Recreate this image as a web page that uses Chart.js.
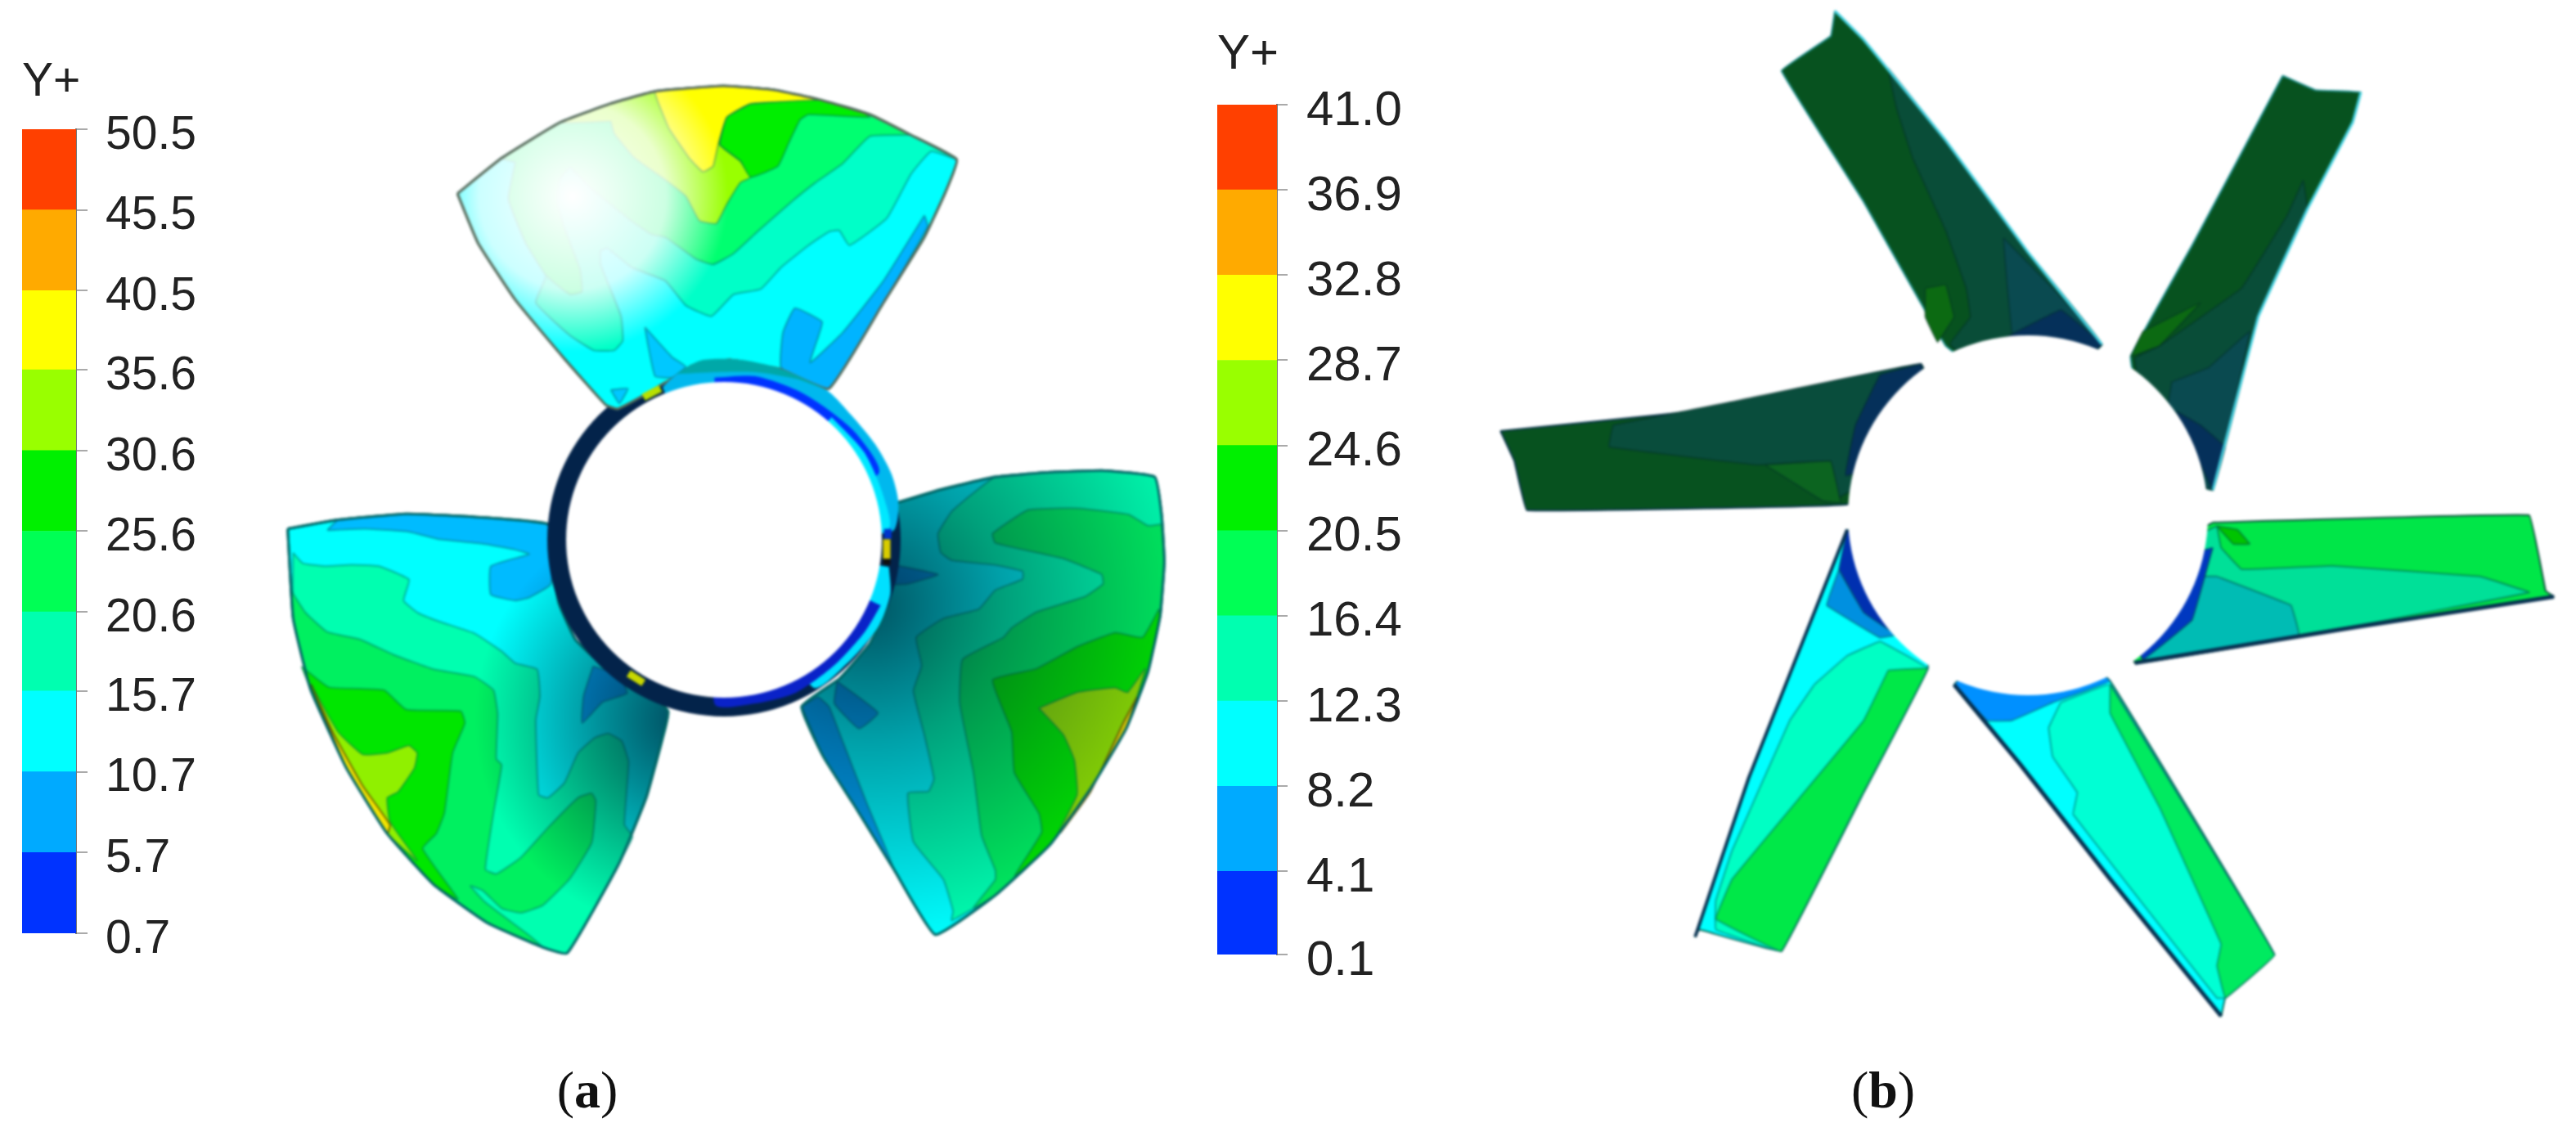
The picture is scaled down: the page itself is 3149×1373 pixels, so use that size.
<!DOCTYPE html>
<html>
<head>
<meta charset="utf-8">
<title>Y+ contours</title>
<script src="https://cdn.jsdelivr.net/npm/chart.js@4"></script>
<style>
  html, body { margin: 0; padding: 0; background: #fff; }
  body { width: 3149px; height: 1373px; position: relative; overflow: hidden; }
  .box { position: absolute; }
  #bladesBox canvas { filter: blur(1.5px); }
  #barA canvas, #barB canvas { filter: blur(0.7px); }
  .cap { position: absolute; font-family: "Liberation Serif", serif; font-size: 64px; color: #111; transform: translateX(-50%); }
</style>
</head>
<body>
<div class="box" id="bladesBox" style="left:0;top:0;width:3149px;height:1373px"><canvas id="blades" width="3149" height="1373"></canvas></div>
<div class="box" id="barA"><canvas id="barACanvas"></canvas></div>
<div class="box" id="barB"><canvas id="barBCanvas"></canvas></div>
<div class="cap" style="left:718px;top:1296px">(<b>a</b>)</div>
<div class="cap" style="left:2302px;top:1296px">(<b>b</b>)</div>

<script>
// colour bar levels
const ticksA = [0.7, 5.7, 10.7, 15.7, 20.6, 25.6, 30.6, 35.6, 40.5, 45.5, 50.5];
const ticksB = [0.1, 4.1, 8.2, 12.3, 16.4, 20.5, 24.6, 28.7, 32.8, 36.9, 41.0];
const bandColors = ['#0033ff', '#00aaff', '#00ffff', '#00ffb0', '#00ff55', '#00f000', '#99ff00', '#ffff00', '#ffaa00', '#ff4000'];

// contours, each blade in its own crop units (see frames below)
const topOutline = [[70,440],[200,310],[370,180],[520,110],[650,65],[850,45],[1000,60],[1130,95],[1280,150],[1400,225],[1535,315],[1500,440],[1440,600],[1320,840],[1160,1155],[1020,1085],[870,1050],[760,1070],[700,1120],[670,1140],[610,1185],[540,1230],[505,1215],[380,1040],[240,830],[130,620]];
const topBlue1 = [[1440,520],[1450,560],[1320,840],[1160,1155],[1020,1080],[1025,950],[1060,860],[1140,910],[1130,960],[1105,1060],[1200,950],[1320,760]];
const topBlue2 = [[620,930],[700,1040],[740,1075],[700,1115],[650,1110],[630,1000]];
const topBlue3 = [[520,1160],[570,1155],[545,1210]];
const topBand1 = [[1535,315],[1460,285],[1400,370],[1330,530],[1220,630],[1190,575],[1160,580],[1100,630],[1020,710],[960,790],[880,810],[815,890],[740,850],[680,760],[580,710],[510,640],[490,650],[490,700],[550,890],[555,980],[530,1015],[470,1015],[400,960],[300,840],[330,740],[270,620],[220,460],[240,325],[200,310],[370,180],[520,110],[650,65],[850,45],[1000,60],[1130,95],[1280,150],[1400,225]];
const topBand2 = [[240,325],[220,460],[270,620],[330,740],[400,810],[435,800],[430,720],[385,570],[365,480],[370,390],[400,345],[460,420],[520,480],[580,540],[640,590],[680,600],[770,680],[820,700],[880,660],[950,580],[1050,470],[1120,400],[1200,330],[1280,230],[1390,225],[1400,225],[1280,150],[1130,95],[1000,60],[850,45],[650,65],[520,110],[370,180],[200,310]];
const topLime = [[520,175],[530,220],[590,310],[680,390],[740,450],[780,540],[830,550],[860,480],[900,400],[930,380],[900,320],[840,260],[860,160],[930,110],[1000,60],[850,45],[650,65],[520,110],[370,180]];
const topGreen = [[930,110],[860,160],[840,260],[900,320],[930,380],[1010,340],[1040,260],[1075,170],[1100,150],[1280,160],[1250,135],[1130,95]];
const topYellow = [[660,110],[690,200],[750,310],[790,360],[820,340],[835,260],[860,160],[930,110],[1130,95],[1000,60],[850,45],[650,65]];

const leftOutline = [[65,100],[250,70],[500,50],[750,60],[1020,85],[1030,200],[1060,350],[1120,470],[1200,540],[1320,590],[1460,710],[1440,800],[1380,1000],[1280,1220],[1090,1520],[1000,1500],[800,1420],[600,1290],[430,1120],[280,900],[150,640],[85,400]];
const leftBlue = [[210,105],[350,100],[510,110],[620,135],[780,150],[900,170],[950,185],[810,225],[810,320],[900,340],[950,330],[1030,285],[1030,85],[750,60],[500,50],[250,70]];
const leftBluePatch = [[1185,560],[1150,660],[1145,750],[1220,680],[1310,650],[1280,590]];
const leftBand1 = [[85,180],[120,215],[200,225],[300,220],[400,225],[510,270],[490,340],[540,380],[620,410],[750,450],[850,510],[900,550],[980,570],[990,660],[975,740],[985,990],[1020,1000],[1080,950],[1130,850],[1190,800],[1240,785],[1290,810],[1315,880],[1300,1090],[1330,1130],[1280,1220],[1090,1520],[1000,1500],[800,1420],[600,1290],[430,1120],[280,900],[150,640],[85,400]];
const leftBand2 = [[80,310],[130,380],[210,445],[330,470],[450,520],[600,570],[750,595],[820,640],[835,720],[830,870],[850,890],[820,1050],[790,1240],[830,1255],[920,1200],[1020,1100],[1130,1000],[1180,985],[1195,1010],[1180,1150],[1100,1270],[1000,1360],[920,1385],[850,1370],[780,1310],[735,1295],[790,1350],[950,1460],[1000,1500],[800,1420],[600,1290],[430,1120],[280,900],[150,640],[85,400]];
const leftGreen = [[115,560],[215,630],[330,635],[420,640],[500,705],[700,710],[715,750],[670,850],[640,1050],[610,1120],[560,1170],[690,1340],[600,1290],[430,1120],[280,900],[150,640]];
const leftLime = [[150,620],[250,780],[340,855],[430,850],[510,825],[540,850],[530,900],[470,980],[430,1000],[440,1080],[540,1210],[430,1120],[280,900]];
const leftYellow = [[150,620],[230,780],[340,960],[440,1090],[430,1120],[280,900]];

const rightOutline = [[410,150],[600,100],[800,60],[1000,45],[1200,40],[1385,60],[1410,180],[1420,330],[1405,500],[1360,680],[1280,860],[1150,1050],[1000,1230],[800,1390],[580,1515],[430,1310],[280,1100],[170,950],[90,790],[230,700],[340,590],[405,470],[400,330]];
const rightBlue1 = [[90,790],[170,950],[280,1100],[425,1300],[330,1100],[240,900],[190,790],[150,760]];
const rightBlue2 = [[220,710],[370,810],[300,860],[210,780]];
const rightBlue3 = [[430,340],[590,370],[480,400],[420,400]];
const rightBand1 = [[700,125],[640,170],[590,240],[600,300],[640,325],[800,340],[900,360],[900,385],[800,420],[740,480],[610,510],[510,570],[530,660],[500,740],[540,880],[575,1020],[555,1060],[480,1065],[500,1220],[610,1340],[645,1440],[640,1470],[800,1390],[1000,1230],[1150,1050],[1280,860],[1360,680],[1405,500],[1420,330],[1410,180],[1385,60],[1200,40],[1000,45],[800,60]];
const rightBand2 = [[1410,210],[1360,215],[1290,180],[1100,160],[920,165],[790,240],[800,270],[1050,320],[1190,370],[1195,400],[1130,440],[950,490],[860,540],[830,570],[680,640],[670,780],[720,1000],[750,1200],[800,1310],[800,1340],[720,1430],[800,1390],[1000,1230],[1150,1050],[1280,860],[1360,680],[1405,500],[1420,330]];
const rightGreen = [[1400,480],[1340,570],[1240,555],[1100,600],[950,670],[790,705],[860,870],[870,1000],[960,1130],[970,1190],[870,1330],[1000,1230],[1150,1050],[1280,860],[1360,680],[1405,500]];
const rightLime = [[960,795],[1100,745],[1240,730],[1285,745],[1350,670],[1280,860],[1150,1050],[1020,1210],[1100,1070],[1090,960],[1050,880]];
const rightYellow = [[1320,760],[1280,860],[1150,1050],[1040,1190],[1150,1060],[1270,840]];

const ringSky = [[510,160],[560,115],[650,65],[780,60],[900,85],[1110,170],[1200,260],[1290,370],[1350,480],[1375,590],[1350,690],[735,720]];
const ringTeal = [[560,112],[650,62],[800,60],[950,95],[1110,170],[1000,130],[850,105],[700,105]];
const ringBlue = [[700,125],[850,120],[1000,170],[1100,230],[1220,330],[1300,480],[735,720]];
const ringCyan = [[1130,270],[1250,400],[1320,560],[1335,680],[735,720]];
const ringAqua = [[1340,820],[1345,920],[1300,1040],[1190,1170],[1060,1260],[735,720]];
const ringDeep = [[1310,960],[1250,1060],[1140,1180],[1000,1280],[850,1320],[700,1320],[735,720]];
const patchA = [[440,197],[502,165]];
const patchB = [[385,1210],[440,1245]];
const patchC = [[1332,718],[1332,790]];
const patchCDark = [[1332,790],[1332,812]];
const patchCBlue = [[1336,680],[1336,716]];
const hubA = [[735,720]];

// panel (b) blades
const b1Outline = [[665,15],[660,50],[600,98],[700,280],[800,480],[900,560],[990,478],[900,350],[800,195],[700,55]];
const b1Teal = [[740,150],[760,220],[800,320],[825,400],[830,440],[805,478],[900,560],[990,478],[900,350],[800,195],[730,95]];
const b1Deep = [[870,330],[875,400],[880,458],[900,560],[990,478],[930,400]];
const b1Navy = [[870,470],[940,430],[990,478],[900,560]];
const b1Spot = [[775,400],[800,395],[810,440],[790,475],[775,440]];
const b1Edge = [[665,15],[700,55],[800,195],[900,350],[990,478]];
const b2Outline = [[1210,105],[1250,125],[1305,128],[1295,170],[1240,290],[1180,440],[1125,680],[1050,650],[1025,495],[1100,340]];
const b2Teal = [[1235,250],[1215,300],[1160,400],[1060,480],[1030,497],[1050,650],[1125,680],[1180,440],[1240,290]];
const b2Deep = [[1075,530],[1120,510],[1170,460],[1125,680],[1060,640]];
const b2Navy = [[1080,570],[1125,680],[1140,620],[1110,590]];
const b2Spot = [[1025,495],[1040,460],[1110,420],[1060,480]];
const b2Edge = [[1305,128],[1295,170],[1240,290],[1180,440],[1125,680]];
const b3Outline = [[258,598],[500,570],[770,505],[800,600],[680,700],[290,708],[275,640]];
const b3Teal = [[395,590],[390,620],[570,645],[660,640],[670,690],[800,600],[770,505],[550,555]];
const b3Navy = [[770,505],[720,520],[690,590],[678,660],[800,620]];
const b3Spot = [[580,645],[660,640],[672,698],[650,695]];
const b4Outline = [[1125,725],[1510,715],[1530,820],[1540,828],[1300,870],[1030,920],[1000,800]];
const b4Band = [[1130,730],[1135,760],[1160,790],[1270,785],[1450,800],[1510,822],[1300,868],[1040,915],[1000,800]];
const b4Teal = [[1130,800],[1220,840],[1230,882],[1040,915],[1000,800]];
const b4Navy = [[1125,760],[1100,860],[1040,915],[1000,800]];
const b4Spot = [[1130,730],[1155,735],[1170,755],[1150,755]];
const b4Edge = [[1030,920],[1300,870],[1540,828]];
const b5Outline = [[810,950],[900,850],[1000,945],[1200,1325],[1140,1385],[1135,1410],[1000,1220],[890,1060]];
const b5Band = [[925,1010],[940,975],[1000,950],[1200,1325],[1140,1385],[1130,1385],[955,1130],[960,1100],[930,1050]];
const b5Green = [[1000,950],[1200,1325],[1140,1385],[1130,1340],[1135,1310],[1060,1120],[1000,990]];
const b5Blue = [[810,950],[850,1000],[880,1000],[930,975],[1000,945],[900,850]];
const b5Edge = [[810,950],[890,1060],[1000,1220],[1135,1410]];
const b6Outline = [[680,735],[780,800],[778,928],[700,1100],[600,1320],[500,1290],[495,1300],[560,1080]];
const b6Band = [[640,950],[680,910],[720,890],[778,928],[700,1100],[600,1320],[520,1290],[520,1250],[540,1180],[610,1000]];
const b6Green = [[730,930],[778,928],[695,1110],[600,1320],[520,1275],[540,1220],[620,1110],[700,1000]];
const b6Navy = [[680,735],[670,790],[700,850],[740,880],[780,800]];
const b6Blue = [[670,790],[655,840],[720,885],[745,880],[690,830]];
const b6Edge = [[680,735],[560,1080],[495,1300]];
const hubB = [[900,715]];

// crop origin and scale of the zoomed readings
const frames = {
  top: { x: 530, y: 90, sx: 2.4, sy: 3 },
  left: { x: 330, y: 610, sx: 3, sy: 2.737 },
  right: { x: 950, y: 560, sx: 3, sy: 2.6 },
  ring: { x: 640, y: 420, sx: 3, sy: 3 },
  b: { x: 1575, y: 0, sx: 0.9955, sy: 1.135 }
};

function toPlot(pts, f) {
  return pts.map(p => ({ x: f.x + p[0] / f.sx, y: f.y + p[1] / f.sy }));
}

// radial shading, the plot axes run 1:1 with the canvas so plot units are pixels
function shade(cx, cy, r, stops) {
  return function (c) {
    const g = c.chart.ctx.createRadialGradient(cx, cy, 0, cx, cy, r);
    stops.forEach(s => g.addColorStop(s[0], s[1]));
    return g;
  };
}

const datasets = [];
let curve = 0.12;
function poly(pts, f, color, line, width) {
  datasets.push({
    data: toPlot(pts.concat([pts[0]]), f), backgroundColor: color, fill: 'shape',
    borderColor: line || 'rgba(0,90,90,0.45)', borderWidth: width === undefined ? 2 : width,
    pointRadius: 0, tension: curve, order: -datasets.length, clip: false
  });
}
function stroke(pts, f, color, width) {
  datasets.push({
    data: toPlot(pts, f), borderColor: color, borderWidth: width, fill: false,
    pointRadius: 0, tension: curve, order: -datasets.length, clip: false
  });
}
function disc(pts, f, color, radius) {
  datasets.push({
    data: toPlot(pts, f), showLine: false, pointRadius: radius, pointHoverRadius: radius,
    pointBackgroundColor: color, pointBorderWidth: 0, order: -datasets.length, clip: false
  });
}

// left blade
poly(leftOutline, frames.left, '#00ffff', '#066', 3);
poly(leftBlue, frames.left, '#00bbff');
poly(leftBluePatch, frames.left, '#00aaff');
poly(leftBand1, frames.left, '#00ffb0');
poly(leftBand2, frames.left, '#00f060');
poly(leftGreen, frames.left, '#00e600');
poly(leftLime, frames.left, '#90f000');
poly(leftYellow, frames.left, '#f4e400', 'rgba(90,70,0,0.8)', 2);
poly(leftOutline, frames.left, shade(840, 880, 260, [[0, 'rgba(0,25,50,0.8)'], [0.4, 'rgba(0,30,50,0.5)'], [1, 'rgba(0,30,50,0)']]), '#066', 3);

// right blade
poly(rightOutline, frames.right, '#00ffff', '#066', 3);
poly(rightBlue1, frames.right, '#00aaff');
poly(rightBlue2, frames.right, '#00aaff');
poly(rightBlue3, frames.right, '#00aaff');
poly(rightBand1, frames.right, '#00ffb0');
poly(rightBand2, frames.right, '#00f060');
poly(rightGreen, frames.right, '#00e600');
poly(rightLime, frames.right, '#90e000');
poly(rightYellow, frames.right, '#f0dc00', 'rgba(90,70,0,0.8)', 2);
poly(rightOutline, frames.right, shade(1060, 740, 420, [[0, 'rgba(0,25,45,0.75)'], [0.4, 'rgba(0,30,50,0.42)'], [1, 'rgba(0,30,50,0)']]), '#066', 3);

// navy ring behind the top blade
disc(hubA, frames.ring, '#03234a', 216);

// top blade
poly(topOutline, frames.top, '#00ffff', '#077', 3);
poly(topBlue1, frames.top, '#00b4ff');
poly(topBlue2, frames.top, '#00c8ff');
poly(topBlue3, frames.top, '#00c8ff');
poly(topBand1, frames.top, '#00ffc8');
poly(topBand2, frames.top, '#00ff70');
poly(topLime, frames.top, '#99ff00');
poly(topGreen, frames.top, '#00ee00');
poly(topYellow, frames.top, '#ffff00');
poly(topOutline, frames.top, shade(700, 240, 190, [[0, 'rgba(255,255,255,1)'], [0.6, 'rgba(255,255,255,0.8)'], [1, 'rgba(255,255,255,0)']]), '#5a6a5a', 3);

// ring segments, white hub last
curve = 0.25;
poly(ringSky, frames.ring, '#00b8ee', 'rgba(0,0,0,0)', 0);
poly(ringTeal, frames.ring, '#00a8a8', 'rgba(0,0,0,0)', 0);
poly(ringBlue, frames.ring, '#0033ff', 'rgba(0,0,0,0)', 0);
poly(ringCyan, frames.ring, '#00e8ff', 'rgba(0,0,0,0)', 0);
poly(ringAqua, frames.ring, '#00e0ff', 'rgba(0,0,0,0)', 0);
poly(ringDeep, frames.ring, '#0a22c8', 'rgba(0,0,0,0)', 0);
disc(hubA, frames.ring, '#ffffff', 193);
stroke(patchA, frames.ring, '#b8e000', 9);
stroke(patchB, frames.ring, '#c8d800', 9);
stroke(patchC, frames.ring, '#d8cc00', 9);
stroke(patchCDark, frames.ring, '#101010', 9);
stroke(patchCBlue, frames.ring, '#0033cc', 9);

// panel (b), blades here have crisp corners
curve = 0.04;
poly(b1Outline, frames.b, '#07521f', '#1c8f8f', 2);
poly(b1Teal, frames.b, '#094d38', 'rgba(0,40,40,0.4)');
poly(b1Deep, frames.b, '#0a4a50', 'rgba(0,40,40,0.4)');
poly(b1Navy, frames.b, '#05305a', 'rgba(0,40,40,0.4)');
poly(b1Spot, frames.b, '#0c6a12', 'rgba(0,40,40,0.4)');
stroke(b1Edge, frames.b, '#40d0e0', 3);

poly(b2Outline, frames.b, '#07521f', '#1c8f8f', 2);
poly(b2Teal, frames.b, '#094d38', 'rgba(0,40,40,0.4)');
poly(b2Deep, frames.b, '#0a4a50', 'rgba(0,40,40,0.4)');
poly(b2Navy, frames.b, '#05305a', 'rgba(0,40,40,0.4)');
poly(b2Spot, frames.b, '#0c6a12', 'rgba(0,40,40,0.4)');
stroke(b2Edge, frames.b, '#40d0e0', 3);

poly(b3Outline, frames.b, '#07521f', '#06304a', 2);
poly(b3Teal, frames.b, '#094d3c', 'rgba(0,40,40,0.4)');
poly(b3Spot, frames.b, '#0c6420', 'rgba(0,40,40,0.4)');
poly(b3Navy, frames.b, '#05305a', 'rgba(0,40,40,0.4)');

poly(b4Outline, frames.b, '#00e648', '#0a4a3a', 2);
poly(b4Band, frames.b, '#00e098', 'rgba(0,70,70,0.5)');
poly(b4Teal, frames.b, '#00bcb4', 'rgba(0,70,70,0.5)');
poly(b4Navy, frames.b, '#0038c0', 'rgba(0,70,70,0.5)');
poly(b4Spot, frames.b, '#00c400', 'rgba(0,70,70,0.5)');
stroke(b4Edge, frames.b, '#063050', 5);

poly(b5Outline, frames.b, '#00ffff', '#0a6a5a', 2);
poly(b5Band, frames.b, '#00ffd4', 'rgba(0,90,90,0.5)');
poly(b5Green, frames.b, '#00ea60', 'rgba(0,90,90,0.5)');
poly(b5Blue, frames.b, '#0090ff', 'rgba(0,90,90,0.5)');
stroke(b5Edge, frames.b, '#063050', 5);

poly(b6Outline, frames.b, '#00ffff', '#0a6a5a', 2);
poly(b6Band, frames.b, '#00ffc4', 'rgba(0,90,90,0.5)');
poly(b6Green, frames.b, '#00e848', 'rgba(0,90,90,0.5)');
poly(b6Blue, frames.b, '#0090e0', 'rgba(0,90,90,0.5)');
poly(b6Navy, frames.b, '#0030b0', 'rgba(0,90,90,0.5)');
stroke(b6Edge, frames.b, '#063050', 4);

disc(hubB, frames.b, '#ffffff', 220);

new Chart(document.getElementById('blades'), {
  type: 'line',
  data: { datasets: datasets },
  options: {
    responsive: false, animation: false, events: [],
    layout: { padding: 0, autoPadding: false },
    plugins: { legend: { display: false }, tooltip: { enabled: false } },
    scales: {
      x: { type: 'linear', display: false, min: 0, max: 3149 },
      y: { type: 'linear', display: false, min: 0, max: 1373, reverse: true }
    }
  }
});

// colour bar: floating bars between levels, real axis on the right
function colourBar(boxId, canvasId, levels, o) {
  const titleH = o.font + o.titleGap;
  const canvasH = titleH + o.barH + 50;
  const box = document.getElementById(boxId);
  box.style.left = o.left + 'px';
  box.style.top = (o.barTop - titleH) + 'px';
  const cv = document.getElementById(canvasId);
  cv.width = o.width; cv.height = canvasH;
  new Chart(cv, {
    type: 'bar',
    data: {
      labels: ['Y+'],
      datasets: bandColors.map((c, i) => ({
        data: [[levels[i], levels[i + 1]]], backgroundColor: c,
        barPercentage: 1, categoryPercentage: 1, grouped: false, borderWidth: 0
      }))
    },
    options: {
      responsive: false, animation: false, events: [],
      layout: { padding: { top: 0, bottom: 50, left: 0, right: 0 } },
      plugins: {
        legend: { display: false }, tooltip: { enabled: false },
        title: { display: true, text: 'Y+', align: 'start', color: '#222',
          font: { family: '"Liberation Sans", Arial, sans-serif', size: o.font, weight: 'normal', lineHeight: 1 },
          padding: { top: 0, bottom: o.titleGap } }
      },
      scales: {
        x: { display: false },
        y: {
          position: 'right', min: levels[0], max: levels[levels.length - 1],
          afterBuildTicks: s => { s.ticks = levels.map(v => ({ value: v })); },
          afterFit: s => { s.width = o.width - o.barW; s.paddingTop = 0; s.paddingBottom = 0; },
          border: { display: true, color: 'rgba(60,60,60,0.7)', width: 2 },
          grid: { drawOnChartArea: false, drawTicks: true, tickLength: o.tick, color: '#aaa', lineWidth: 2 },
          ticks: {
            autoSkip: false, padding: o.labelGap, labelOffset: 8, color: '#222', maxRotation: 0,
            font: { family: '"Liberation Sans", Arial, sans-serif', size: o.font, lineHeight: 1 },
            callback: v => v.toFixed(1)
          }
        }
      }
    }
  });
}

colourBar('barA', 'barACanvas', ticksA, { left: 27, barTop: 158, barH: 983, barW: 66, width: 250, tick: 14, labelGap: 22, font: 57, titleGap: 28 });
colourBar('barB', 'barBCanvas', ticksB, { left: 1488, barTop: 128, barH: 1039, barW: 73, width: 260, tick: 13, labelGap: 23, font: 60, titleGap: 31 });
</script>
</body>
</html>
